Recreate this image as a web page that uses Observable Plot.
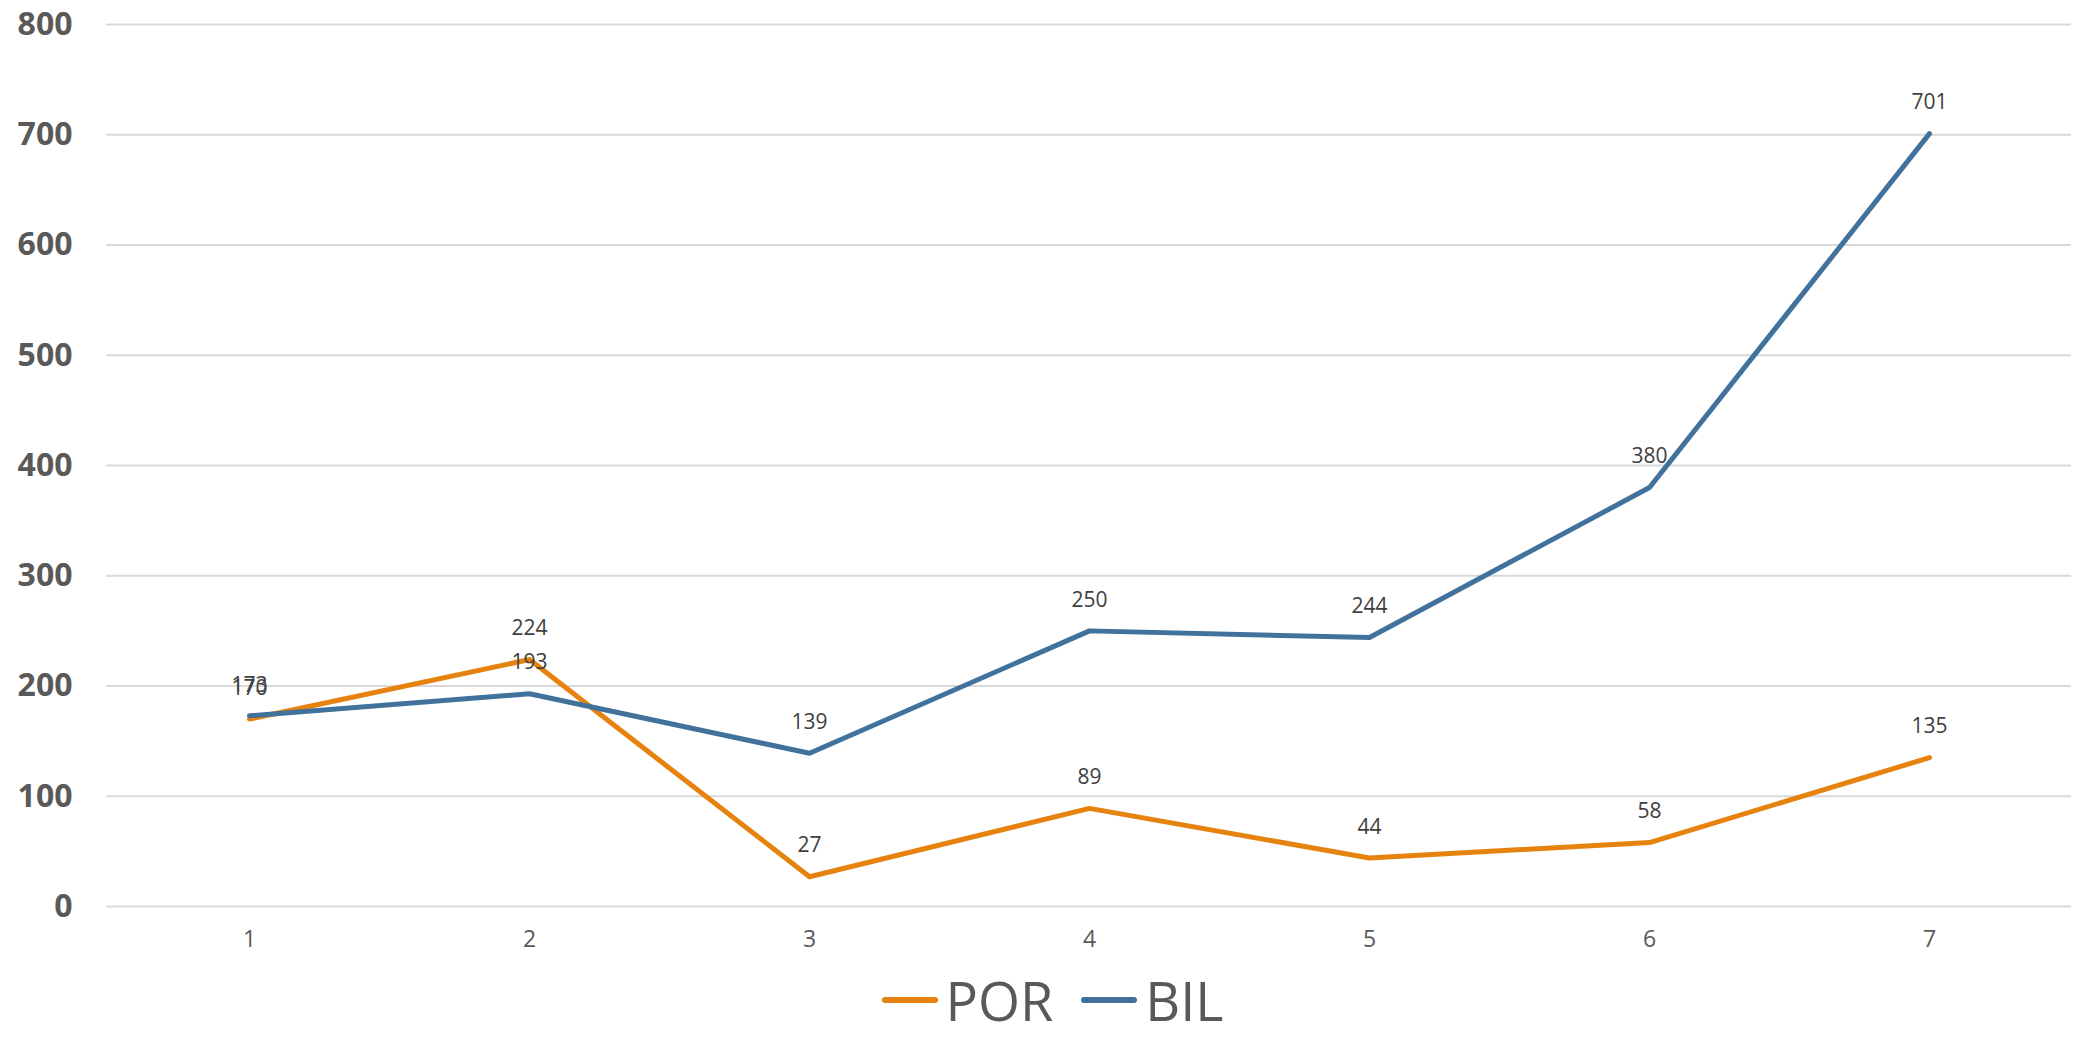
<!DOCTYPE html>
<html>
<head>
<meta charset="utf-8">
<script src="https://cdn.jsdelivr.net/npm/d3@7"></script>
<script src="https://cdn.jsdelivr.net/npm/@observablehq/plot@0.6"></script>
<style>
  html, body { margin: 0; padding: 0; background: #fff; }
  body { width: 2079px; height: 1039px; overflow: hidden; font-family: "Open Sans", sans-serif; }
  #legend { display: flex; justify-content: center; align-items: center; height: 79px; padding-left: 26px; box-sizing: border-box; }
  .item { display: flex; align-items: center; margin: 0 14px; }
  .sw { width: 56px; height: 6px; border-radius: 3px; margin-right: 8px; }
  .lab { font-size: 54px; color: #595959; line-height: 1; }
</style>
</head>
<body>
<div id="chart"></div>
<div id="legend"></div>
<script>
const categories = [1, 2, 3, 4, 5, 6, 7];
const porValues = [170, 224, 27, 89, 44, 58, 135];
const bilValues = [173, 193, 139, 250, 244, 380, 701];
const yTicks = [0, 100, 200, 300, 400, 500, 600, 700, 800];
const seriesNames = ["POR", "BIL"];
const seriesColors = ["#E6830F", "#41729C"];

const data = [];
categories.forEach((c, i) => {
  data.push({cat: c, value: porValues[i], series: "POR"});
  data.push({cat: c, value: bilValues[i], series: "BIL"});
});

const chart = Plot.plot({
  width: 2079,
  height: 960,
  marginTop: 24,
  marginBottom: 54,
  marginLeft: 106,
  marginRight: 8,
  style: {fontFamily: "Open Sans, sans-serif", background: "#fff"},
  x: {type: "point", domain: categories, padding: 0.5},
  y: {domain: [0, 800]},
  color: {domain: seriesNames, range: seriesColors},
  marks: [
    Plot.ruleY(yTicks, {stroke: "#d9d9d9", strokeWidth: 2}),
    Plot.axisY({ticks: yTicks, tickSize: 0, tickPadding: 34, fontSize: 32, fontWeight: "bold", fill: "#595959", label: null}),
    Plot.axisX({tickSize: 0, tickPadding: 24, fontSize: 23, fill: "#595959", label: null}),
    Plot.line(data, {x: "cat", y: "value", z: "series", stroke: "series", strokeWidth: 5, strokeLinejoin: "round", strokeLinecap: "round"}),
    Plot.text(data, {x: "cat", y: "value", text: d => String(d.value), dy: -31, fontSize: 21, fill: "#404040"})
  ]
});
document.getElementById("chart").appendChild(chart);

const legend = document.getElementById("legend");
seriesNames.forEach((name, i) => {
  const item = document.createElement("div");
  item.className = "item";
  const sw = document.createElement("div");
  sw.className = "sw";
  sw.style.background = seriesColors[i];
  const lab = document.createElement("span");
  lab.className = "lab";
  lab.textContent = name;
  item.appendChild(sw);
  item.appendChild(lab);
  legend.appendChild(item);
});
</script>
</body>
</html>
